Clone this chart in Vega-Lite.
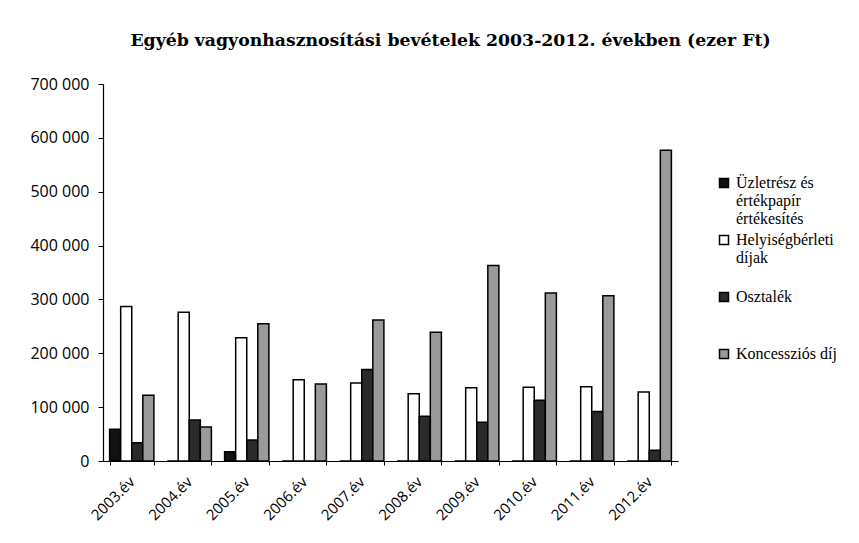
{
  "$schema": "https://vega.github.io/schema/vega-lite/v6.json",
  "width": 575,
  "height": 377,
  "autosize": {"type": "none"},
  "padding": {"left": 103, "top": 84, "right": 181, "bottom": 82},
  "background": "white",
  "title": {
    "text": "Egyéb vagyonhasznosítási bevételek 2003-2012. években (ezer Ft)",
    "font": "DejaVu Serif",
    "fontSize": 17.3,
    "fontWeight": "bold",
    "color": "#000",
    "anchor": "middle",
    "dx": 60,
    "offset": 27
  },
  "data": {
    "values": [
      {"ev": "2003.év", "sorozat": "Üzletrész és értékpapír értékesítés", "ertek": 59000},
      {"ev": "2003.év", "sorozat": "Helyiségbérleti díjak", "ertek": 287000},
      {"ev": "2003.év", "sorozat": "Osztalék", "ertek": 34000},
      {"ev": "2003.év", "sorozat": "Koncessziós díj", "ertek": 122000},
      {"ev": "2004.év", "sorozat": "Üzletrész és értékpapír értékesítés", "ertek": 0},
      {"ev": "2004.év", "sorozat": "Helyiségbérleti díjak", "ertek": 276000},
      {"ev": "2004.év", "sorozat": "Osztalék", "ertek": 76000},
      {"ev": "2004.év", "sorozat": "Koncessziós díj", "ertek": 63000},
      {"ev": "2005.év", "sorozat": "Üzletrész és értékpapír értékesítés", "ertek": 17000},
      {"ev": "2005.év", "sorozat": "Helyiségbérleti díjak", "ertek": 229000},
      {"ev": "2005.év", "sorozat": "Osztalék", "ertek": 39000},
      {"ev": "2005.év", "sorozat": "Koncessziós díj", "ertek": 255000},
      {"ev": "2006.év", "sorozat": "Üzletrész és értékpapír értékesítés", "ertek": 0},
      {"ev": "2006.év", "sorozat": "Helyiségbérleti díjak", "ertek": 151000},
      {"ev": "2006.év", "sorozat": "Osztalék", "ertek": 0},
      {"ev": "2006.év", "sorozat": "Koncessziós díj", "ertek": 143000},
      {"ev": "2007.év", "sorozat": "Üzletrész és értékpapír értékesítés", "ertek": 0},
      {"ev": "2007.év", "sorozat": "Helyiségbérleti díjak", "ertek": 145000},
      {"ev": "2007.év", "sorozat": "Osztalék", "ertek": 170000},
      {"ev": "2007.év", "sorozat": "Koncessziós díj", "ertek": 262000},
      {"ev": "2008.év", "sorozat": "Üzletrész és értékpapír értékesítés", "ertek": 0},
      {"ev": "2008.év", "sorozat": "Helyiségbérleti díjak", "ertek": 125000},
      {"ev": "2008.év", "sorozat": "Osztalék", "ertek": 83000},
      {"ev": "2008.év", "sorozat": "Koncessziós díj", "ertek": 239000},
      {"ev": "2009.év", "sorozat": "Üzletrész és értékpapír értékesítés", "ertek": 0},
      {"ev": "2009.év", "sorozat": "Helyiségbérleti díjak", "ertek": 136000},
      {"ev": "2009.év", "sorozat": "Osztalék", "ertek": 72000},
      {"ev": "2009.év", "sorozat": "Koncessziós díj", "ertek": 363000},
      {"ev": "2010.év", "sorozat": "Üzletrész és értékpapír értékesítés", "ertek": 0},
      {"ev": "2010.év", "sorozat": "Helyiségbérleti díjak", "ertek": 137000},
      {"ev": "2010.év", "sorozat": "Osztalék", "ertek": 113000},
      {"ev": "2010.év", "sorozat": "Koncessziós díj", "ertek": 312000},
      {"ev": "2011.év", "sorozat": "Üzletrész és értékpapír értékesítés", "ertek": 0},
      {"ev": "2011.év", "sorozat": "Helyiségbérleti díjak", "ertek": 138000},
      {"ev": "2011.év", "sorozat": "Osztalék", "ertek": 92000},
      {"ev": "2011.év", "sorozat": "Koncessziós díj", "ertek": 307000},
      {"ev": "2012.év", "sorozat": "Üzletrész és értékpapír értékesítés", "ertek": 0},
      {"ev": "2012.év", "sorozat": "Helyiségbérleti díjak", "ertek": 128000},
      {"ev": "2012.év", "sorozat": "Osztalék", "ertek": 20000},
      {"ev": "2012.év", "sorozat": "Koncessziós díj", "ertek": 577000}
    ]
  },
  "mark": {"type": "bar", "stroke": "#000", "strokeWidth": 1.5},
  "encoding": {
    "x": {
      "field": "ev",
      "type": "nominal",
      "sort": null,
      "scale": {"paddingInner": 0.23, "paddingOuter": 0.115},
      "axis": {
        "title": null,
        "labelAngle": -45,
        "labelAlign": "right",
        "labelBaseline": "middle",
        "labelFont": "Open Sans",
        "labelFontSize": 15,
        "labelColor": "#000",
        "labelPadding": 14,
        "domainColor": "#000",
        "domainWidth": 1.2,
        "tickColor": "#000",
        "tickBand": "extent",
        "tickSize": 4
      }
    },
    "xOffset": {
      "field": "sorozat",
      "type": "nominal",
      "sort": ["Üzletrész és értékpapír értékesítés", "Helyiségbérleti díjak", "Osztalék", "Koncessziós díj"],
      "scale": {"paddingInner": 0, "paddingOuter": 0}
    },
    "y": {
      "field": "ertek",
      "type": "quantitative",
      "scale": {"domain": [0, 700000]},
      "axis": {
        "title": null,
        "values": [0, 100000, 200000, 300000, 400000, 500000, 600000, 700000],
        "labelExpr": "datum.value == 0 ? '0' : floor(datum.value / 1000) + ' 000'",
        "labelFont": "Open Sans",
        "labelFontSize": 16,
        "labelColor": "#000",
        "labelPadding": 9,
        "grid": false,
        "domainColor": "#000",
        "domainWidth": 1.2,
        "tickColor": "#000",
        "tickSize": 5
      }
    },
    "fill": {
      "field": "sorozat",
      "type": "nominal",
      "sort": ["Üzletrész és értékpapír értékesítés", "Helyiségbérleti díjak", "Osztalék", "Koncessziós díj"],
      "scale": {
        "domain": ["Üzletrész és értékpapír értékesítés", "Helyiségbérleti díjak", "Osztalék", "Koncessziós díj"],
        "range": ["#111111", "#ffffff", "#2a2a2a", "#9a9a9a"]
      },
      "legend": {
        "title": null,
        "orient": "none",
        "legendX": 613,
        "legendY": 91,
        "symbolType": "square",
        "symbolSize": 81,
        "symbolStrokeColor": "#000",
        "symbolStrokeWidth": 1.5,
        "labelFont": "Times New Roman, Liberation Serif, serif",
        "labelFontSize": 16,
        "labelColor": "#000",
        "labelLimit": 200,
        "labelOffset": 4,
        "rowPadding": 5,
        "labelExpr": "datum.label == 'Üzletrész és értékpapír értékesítés' ? ['Üzletrész és', 'értékpapír', 'értékesítés'] : datum.label == 'Helyiségbérleti díjak' ? ['Helyiségbérleti', 'díjak', ' '] : [datum.label, ' ', ' ']"
      }
    }
  },
  "config": {
    "view": {"stroke": null}
  }
}
